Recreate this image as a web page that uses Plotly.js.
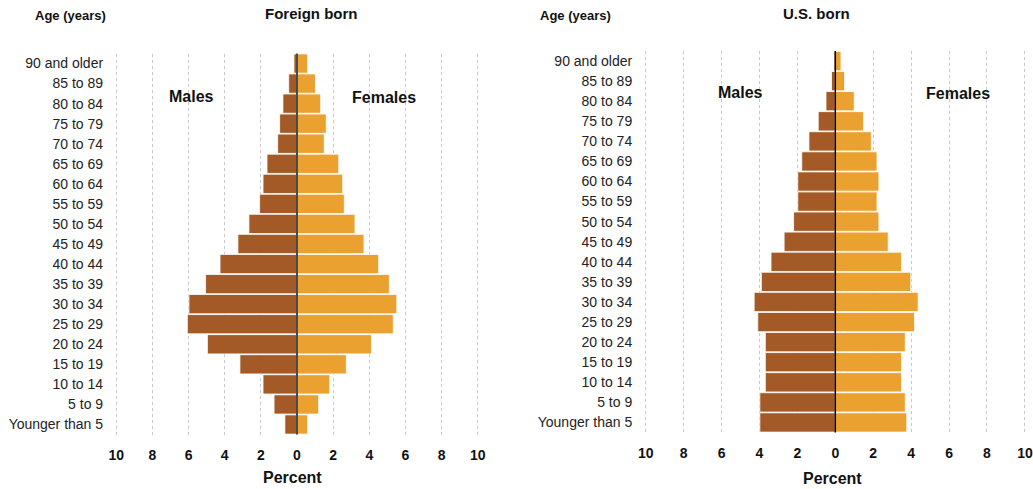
<!DOCTYPE html>
<html><head><meta charset="utf-8">
<script src="https://cdn.plot.ly/plotly-3.0.1.min.js"></script>
<style>html,body{margin:0;padding:0;background:#fff}</style>
</head><body><div id="chart" style="width:1033px;height:489px"></div>
<script>
// Age groups, bottom to top
const ageGroups = ["Younger than 5","5 to 9","10 to 14","15 to 19","20 to 24","25 to 29","30 to 34","35 to 39","40 to 44","45 to 49","50 to 54","55 to 59","60 to 64","65 to 69","70 to 74","75 to 79","80 to 84","85 to 89","90 and older"];
// Percent of population, foreign born
const foreignMales   = [0.67,1.27,1.88,3.16,4.96,6.07,5.98,5.06,4.26,3.27,2.66,2.07,1.88,1.66,1.07,0.96,0.78,0.46,0.17];
const foreignFemales = [0.59,1.20,1.81,2.73,4.12,5.33,5.52,5.11,4.52,3.71,3.21,2.62,2.53,2.31,1.51,1.62,1.31,1.02,0.59];
// Percent of population, U.S. born
const usMales   = [3.98,3.98,3.69,3.69,3.69,4.09,4.28,3.90,3.39,2.70,2.20,1.98,1.98,1.77,1.39,0.90,0.49,0.20,0.07];
const usFemales = [3.77,3.69,3.49,3.49,3.69,4.18,4.37,3.98,3.49,2.79,2.30,2.20,2.30,2.20,1.90,1.49,1.00,0.49,0.30];
// Axis ticks
const tickValues = [-10,-8,-6,-4,-2,0,2,4,6,8,10];
const tickLabels = ["10","8","6","4","2","0","2","4","6","8","10"];

const W = 1033, H = 489;
const px = x => x / W, py = y => 1 - y / H;
const maleColor = "#a35a26", femaleColor = "#eba130";
const neg = a => a.map(v => -v);

function bars(x, color, xa, ya) {
  return {type:"bar", orientation:"h", y: ageGroups, x: x, xaxis: xa, yaxis: ya,
    marker:{color: color, line:{color:"#ffffff", width:0.8}}, hoverinfo:"none", showlegend:false};
}
const data = [
  bars(neg(foreignMales), maleColor, "x", "y"),
  bars(foreignFemales, femaleColor, "x", "y"),
  bars(neg(usMales), maleColor, "x2", "y2"),
  bars(usFemales, femaleColor, "x2", "y2")
];

const tickFont = {family:"Liberation Sans, Arial, sans-serif", size:14, color:"#111", weight:"bold"};
const catFont = {family:"Liberation Sans, Arial, sans-serif", size:14, color:"#222"};
function xaxis(domain, anchor) {
  return {domain: domain, anchor: anchor, range:[-10.3,10.3], tickvals: tickValues, ticktext: tickLabels,
    showgrid:true, gridcolor:"#c8c8c8", griddash:"dot", gridwidth:1, zeroline:false, showline:false,
    ticks:"outside", ticklen:8, tickcolor:"rgba(0,0,0,0)", tickfont: tickFont, fixedrange:true};
}
function yaxis(domain, anchor) {
  return {domain: domain, anchor: anchor, type:"category", categoryarray: ageGroups, categoryorder:"array",
    range:[-0.5, ageGroups.length - 0.5], showgrid:false, zeroline:false, showline:false,
    ticks:"outside", ticklen:4, tickcolor:"rgba(0,0,0,0)", tickfont: catFont, fixedrange:true};
}
const boldFont = (s) => ({family:"Liberation Sans, Arial, sans-serif", size:s, color:"#111", weight:"bold"});
function ann(text, x, y, size) {
  return {text: "<b>"+text+"</b>", xref:"paper", yref:"paper", x: px(x), y: py(y), xanchor:"center", yanchor:"middle",
    showarrow:false, font: boldFont(size)};
}
const layout = {
  width: W, height: H, margin:{l:0,r:0,t:0,b:0}, paper_bgcolor:"#fff", plot_bgcolor:"#fff",
  barmode:"relative", bargap:0.04,
  xaxis: xaxis([px(110.9), px(483.1)], "y"),
  yaxis: yaxis([py(434.5), py(53.5)], "x"),
  xaxis2: xaxis([px(640.0), px(1030.6)], "y2"),
  yaxis2: yaxis([py(432.5), py(51.0)], "x2"),
  annotations: [
    ann("Age (years)", 70.5, 15.5, 13),
    ann("Foreign born", 311.7, 14, 15),
    ann("Males", 191.3, 96.7, 16),
    ann("Females", 384.2, 97, 16),
    ann("Percent", 292.8, 477.3, 16),
    ann("Age (years)", 575.8, 15.5, 13),
    ann("U.S. born", 816.2, 14, 15),
    ann("Males", 740, 92.7, 16),
    ann("Females", 958, 93, 16),
    ann("Percent", 832.8, 478.3, 16)
  ],
  shapes: [
    {type:"line", xref:"x", yref:"y domain", x0:0, x1:0, y0:0, y1:1, layer:"above", line:{color:"#4a4a4a", width:2}},
    {type:"line", xref:"x2", yref:"y2 domain", x0:0, x1:0, y0:0, y1:1, layer:"above", line:{color:"#000", width:1.5}}
  ]
};
Plotly.newPlot("chart", data, layout, {displayModeBar:false, staticPlot:true});
</script></body></html>
